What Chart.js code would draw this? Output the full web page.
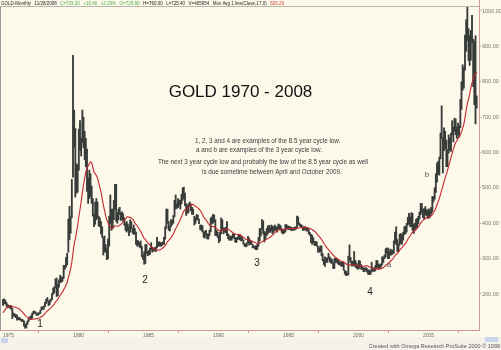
<!DOCTYPE html>
<html>
<head>
<meta charset="utf-8">
<script src="https://cdn.jsdelivr.net/npm/chart.js@4.4.1/dist/chart.umd.min.js"></script>
<style>
  html, body { margin: 0; padding: 0; background: #fcf9ea; }
  canvas { display: block; }
</style>
</head>
<body>
<canvas id="goldChart" width="501" height="350"></canvas>
<script>
// Monthly gold, Jan 1975 - Nov 2008 (one row per year)
const firstYear = 1975;

const highs = [
  185, 186, 182, 176, 170, 168, 167, 167, 160, 146, 144, 141,
  141, 134, 134, 130, 129, 127, 124, 113, 118, 124, 132, 136,
  138, 146, 151, 152, 149, 144, 147, 147, 155, 164, 163, 166,
  177, 185, 190, 180, 183, 186, 201, 217, 220, 243, 245, 227,
  240, 253, 248, 248, 281, 281, 303, 315, 412, 448, 418, 524,
  875, 720, 668, 568, 565, 666, 690, 640, 720, 700, 660, 640,
  610, 528, 550, 540, 505, 470, 425, 460, 470, 460, 420, 415,
  405, 390, 360, 364, 340, 330, 355, 420, 480, 440, 440, 465,
  510, 510, 430, 440, 445, 430, 432, 427, 415, 400, 405, 398,
  390, 410, 405, 385, 395, 385, 375, 352, 350, 345, 350, 335,
  310, 320, 340, 340, 320, 323, 330, 345, 332, 330, 331, 333,
  360, 346, 348, 345, 345, 347, 360, 390, 440, 440, 405, 392,
  410, 408, 422, 465, 480, 455, 470, 465, 466, 482, 500, 502,
  485, 455, 450, 455, 460, 455, 445, 440, 420, 415, 425, 423,
  412, 395, 395, 393, 378, 375, 380, 370, 370, 380, 415, 418,
  425, 423, 410, 380, 375, 365, 375, 415, 410, 387, 387, 388,
  405, 370, 365, 362, 364, 370, 371, 360, 358, 361, 368, 367,
  362, 360, 353, 342, 342, 345, 363, 358, 350, 349, 340, 336,
  335, 337, 340, 360, 385, 385, 410, 407, 377, 373, 385, 392,
  394, 388, 395, 392, 390, 395, 390, 390, 398, 396, 393, 385,
  382, 380, 396, 396, 393, 391, 391, 388, 387, 388, 389, 390,
  420, 418, 401, 397, 395, 391, 388, 391, 386, 386, 384, 374,
  369, 366, 359, 348, 349, 347, 335, 330, 336, 336, 314, 298,
  305, 302, 302, 315, 305, 301, 297, 288, 300, 302, 300, 297,
  293, 290, 290, 290, 290, 267, 264, 259, 307, 339, 303, 292,
  293, 320, 295, 288, 282, 295, 293, 283, 278, 274, 272, 275,
  272, 268, 268, 266, 290, 274, 271, 280, 295, 294, 285, 282,
  285, 305, 305, 310, 328, 330, 330, 320, 327, 325, 323, 350,
  375, 390, 354, 341, 369, 371, 368, 375, 390, 392, 400, 417,
  428, 418, 430, 428, 396, 400, 411, 414, 420, 432, 456, 456,
  440, 441, 447, 438, 437, 441, 437, 445, 476, 475, 500, 540,
  570, 575, 587, 655, 732, 642, 670, 660, 635, 608, 650, 640,
  655, 690, 672, 697, 695, 672, 683, 675, 750, 800, 848, 840,
  932, 975, 1033, 950, 930, 945, 988, 920, 915, 930, 760
];

const lows = [
  168, 172, 172, 165, 161, 162, 160, 157, 130, 138, 136, 133,
  126, 127, 127, 126, 122, 122, 109, 103, 104, 114, 122, 130,
  128, 132, 143, 146, 143, 139, 140, 143, 145, 154, 157, 157,
  164, 173, 179, 167, 170, 179, 184, 199, 203, 217, 193, 195,
  219, 232, 233, 236, 244, 270, 276, 282, 318, 353, 372, 416,
  530, 615, 474, 485, 488, 550, 606, 590, 628, 614, 580, 560,
  490, 456, 470, 475, 456, 420, 390, 397, 410, 415, 392, 390,
  370, 360, 310, 319, 318, 297, 300, 335, 400, 380, 385, 410,
  440, 405, 400, 410, 425, 408, 410, 405, 394, 380, 375, 380,
  365, 375, 385, 372, 368, 370, 340, 335, 338, 332, 330, 305,
  298, 284, 286, 315, 308, 310, 312, 325, 318, 322, 321, 320,
  330, 336, 335, 335, 336, 340, 340, 355, 385, 400, 380, 378,
  390, 396, 400, 418, 440, 442, 444, 450, 440, 455, 465, 470,
  450, 422, 428, 430, 448, 435, 425, 425, 395, 400, 409, 410,
  399, 382, 380, 375, 360, 358, 366, 356, 355, 365, 376, 398,
  400, 405, 365, 365, 360, 345, 350, 370, 383, 370, 375, 373,
  365, 356, 352, 352, 352, 358, 358, 347, 345, 353, 356, 353,
  350, 351, 341, 335, 333, 335, 345, 338, 340, 340, 330, 331,
  327, 325, 326, 335, 350, 364, 383, 370, 347, 355, 365, 370,
  375, 374, 378, 370, 375, 380, 380, 375, 385, 385, 380, 373,
  370, 372, 375, 383, 383, 382, 383, 379, 380, 380, 381, 383,
  386, 398, 393, 390, 388, 380, 380, 384, 378, 378, 370, 366,
  345, 340, 345, 337, 337, 335, 318, 318, 320, 308, 294, 283,
  278, 290, 289, 300, 291, 287, 287, 272, 272, 288, 290, 285,
  282, 282, 278, 278, 267, 256, 252, 253, 254, 295, 288, 279,
  279, 280, 276, 273, 270, 271, 276, 270, 269, 263, 263, 268,
  262, 255, 255, 255, 262, 265, 264, 265, 270, 276, 270, 271,
  276, 282, 289, 300, 304, 315, 300, 300, 310, 310, 313, 315,
  344, 340, 320, 320, 338, 343, 341, 352, 368, 370, 375, 395,
  398, 390, 391, 380, 371, 381, 386, 387, 398, 411, 424, 430,
  416, 411, 424, 421, 414, 414, 417, 426, 432, 460, 468, 487,
  516, 538, 536, 582, 640, 542, 605, 611, 560, 560, 598, 606,
  603, 650, 630, 660, 650, 640, 650, 643, 670, 722, 776, 782,
  833, 886, 916, 860, 846, 861, 911, 786, 735, 681, 725.4
];

const closes = [
  175.8, 181.8, 177.3, 167.0, 167.0, 165.2, 166.7, 159.8, 141.3, 142.9, 138.0, 140.3,
  128.2, 132.3, 128.8, 128.4, 125.5, 123.8, 112.5, 104.0, 116.0, 123.2, 130.3, 134.5,
  132.3, 142.8, 149.0, 148.0, 143.0, 143.0, 144.1, 145.1, 154.0, 162.3, 160.5, 165.0,
  175.0, 182.0, 181.3, 170.6, 183.5, 183.8, 200.3, 208.9, 217.1, 242.6, 193.4, 226.0,
  233.7, 251.3, 240.1, 245.3, 274.6, 277.5, 296.5, 315.1, 397.3, 382.0, 415.7, 512.0,
  653.0, 637.0, 494.5, 517.5, 535.5, 653.0, 614.3, 631.3, 666.8, 629.0, 619.8, 589.8,
  506.5, 489.0, 513.8, 482.8, 479.3, 426.0, 406.0, 425.0, 428.8, 427.0, 414.5, 397.5,
  387.0, 362.6, 320.0, 361.3, 325.3, 317.0, 342.9, 411.5, 397.0, 423.3, 416.0, 456.9,
  499.5, 408.5, 414.8, 429.3, 437.5, 416.0, 422.0, 414.3, 405.0, 382.0, 405.0, 382.4,
  373.8, 394.3, 394.3, 375.8, 384.3, 373.8, 342.4, 348.3, 343.8, 333.5, 329.0, 309.0,
  303, 299, 329, 321, 315, 318, 326, 333, 325, 326, 325, 328,
  351, 338, 345, 343, 343, 345, 357, 385, 423, 401, 383, 390,
  404, 405, 418, 452, 452, 448, 463, 453, 460, 469, 492, 484,
  458, 426, 446, 450, 451, 436, 437, 431, 399, 411, 422, 410,
  404, 388, 392, 377, 362, 374, 368, 360, 367, 376, 408, 401,
  415, 407, 368, 368, 363, 352, 372, 387, 408, 380, 381, 386,
  366, 363, 356, 357, 361, 367, 362, 347, 354, 358, 367, 353,
  355, 353, 341, 337, 337, 343, 357, 340, 349, 340, 334, 333,
  330, 327, 337, 354, 378, 379, 401, 372, 355, 370, 370, 392,
  378, 381, 391, 377, 387, 386, 384, 387, 394, 389, 383, 383,
  375, 376, 392, 389, 385, 387, 383, 382, 384, 383, 387, 387,
  405, 400, 396, 392, 390, 382, 385, 386, 379, 380, 371, 369,
  345, 362, 348, 340, 345, 335, 326, 323, 332, 311, 297, 290,
  304, 297, 301, 308, 294, 296, 289, 273, 294, 292, 294, 288,
  287, 287, 279, 286, 268, 261, 255, 254, 299, 299, 291, 289,
  283, 293, 278, 275, 273, 289, 279, 277, 273, 264, 269, 273,
  265, 266, 258, 264, 266, 270, 265, 273, 293, 279, 275, 279,
  282, 297, 302, 308, 326, 318, 304, 312, 324, 316, 318, 347,
  368, 347, 334, 339, 364, 346, 354, 375, 384, 386, 397, 416,
  400, 397, 426, 388, 395, 393, 391, 410, 415, 428, 452, 438,
  422, 435, 428, 434, 417, 435, 430, 433, 470, 470, 496, 518,
  569, 556, 583, 654, 643, 614, 633, 627, 599, 604, 648, 632,
  651, 665, 662, 679, 659, 650, 666, 672, 743, 789, 783, 836,
  926, 971, 917, 864, 887, 928, 918, 829, 880, 718, 733.2
];

// Sep 1973 - Dec 1974 closes, only used to start the moving average
const closesBefore1975 = [103.0, 100.1, 94.8, 112.3, 129.2, 150.3, 168.4, 172.3,
                          163.3, 142.9, 155.5, 154.1, 151.8, 158.8, 181.8, 186.5];
const maLength = 17;

const yearTicks = [1975, 1980, 1985, 1990, 1995, 2000, 2005];
const priceTicks = [200, 300, 400, 500, 600, 700, 800, 900, 1000];

const cycleLows = [
  { text: '1', year: 1977.64, price: 115, big: true },
  { text: '2', year: 1985.14, price: 240, big: true },
  { text: '3', year: 1993.14, price: 288, big: true },
  { text: '4', year: 2001.21, price: 206, big: true },
  { text: 'a', year: 2002.57, price: 282, big: false },
  { text: 'b', year: 2005.29, price: 536, big: false }
];

const noteLines = [
  '1, 2, 3 and 4 are examples of the 8.5 year cycle low.',
  'a and b are examples of the 3 year cycle low.',
  'The next 3 year cycle low and probably the low of the 8.5 year cycle as well',
  'is due sometime between April and October 2009.'
];

const headerParts = [
  ['GOLD-Monthly', '#222'], ['11/28/2008', '#222'],
  ['C=733.20', '#4caf50'], ['+16.40', '#4caf50'], ['+2.29%', '#4caf50'], ['O=729.80', '#4caf50'],
  ['H=760.00', '#222'], ['L=725.40', '#222'], ['V=405654', '#222'],
  ['Mov Avg 1 line(Close,17,0)', '#222'], ['826.29', '#d0403c']
];

const FONT = "'Liberation Sans', Arial, sans-serif";
const BG = '#fcf9ea';
const AXIS = '#cf9a98';

const monthX = i => firstYear + i / 12;

const barPoints = highs.map((h, i) => ({ x: monthX(i), y: [lows[i], h] }));

const allCloses = closesBefore1975.concat(closes);
const maPoints = closes.map((c, i) => {
  const end = i + closesBefore1975.length + 1;
  const win = allCloses.slice(end - maLength, end);
  return { x: monthX(i), y: win.reduce((a, b) => a + b, 0) / win.length };
});

const chartDecor = {
  id: 'chartDecor',
  beforeDraw(chart) {
    const c = chart.ctx;
    c.save();
    c.fillStyle = BG;
    c.fillRect(0, 0, chart.width, chart.height);
    c.restore();
  },
  afterDraw(chart) {
    const c = chart.ctx;
    const xs = chart.scales.x, ys = chart.scales.y;
    const area = chart.chartArea;
    c.save();

    // header strip
    c.strokeStyle = '#b9b5a8';
    c.lineWidth = 1;
    c.beginPath();
    c.moveTo(0, area.top - 0.5);
    c.lineTo(area.right, area.top - 0.5);
    c.stroke();
    c.strokeStyle = AXIS;
    c.beginPath();
    c.moveTo(area.right + 0.5, 0);
    c.lineTo(area.right + 0.5, area.top);
    c.stroke();
    c.strokeStyle = '#9a9a9a';
    c.beginPath();
    c.moveTo(0.5, area.top);
    c.lineTo(0.5, area.bottom);
    c.stroke();

    c.font = '4.5px ' + FONT;
    c.textBaseline = 'alphabetic';
    let hx = 1;
    headerParts.forEach(([t, col]) => {
      c.fillStyle = col;
      c.fillText(t, hx, 5);
      hx += c.measureText(t).width + 3.5;
    });

    // title and notes
    c.fillStyle = '#111';
    c.textAlign = 'center';
    c.font = '17px ' + FONT;
    c.fillText('GOLD 1970 - 2008', 240.5, 97);

    c.fillStyle = '#3a3a3a';
    c.textAlign = 'left';
    c.font = '6.3px ' + FONT;
    const noteX = [195, 196, 158, 202];
    const noteY = [143, 152, 164, 174];
    noteLines.forEach((t, k) => c.fillText(t, noteX[k], noteY[k]));

    // cycle low markers
    c.textAlign = 'center';
    c.textBaseline = 'middle';
    cycleLows.forEach(m => {
      c.font = (m.big ? '10px ' : '8px ') + FONT;
      c.fillStyle = m.big ? '#222' : '#555';
      c.fillText(m.text, xs.getPixelForValue(m.year), ys.getPixelForValue(m.price));
    });

    // scrollbar strip and credit
    c.fillStyle = '#f4f2ea';
    c.fillRect(0, 337, chart.width, 13);
    c.fillStyle = '#c9d6ea';
    c.fillRect(1, 338, 7, 5);
    c.fillRect(485, 337, 13, 5);
    c.fillStyle = '#555';
    c.textAlign = 'right';
    c.textBaseline = 'alphabetic';
    c.font = '5.5px ' + FONT;
    c.fillText('Created with Omega Research ProSuite 2000 \u00a9 1999', 500, 348);
    c.restore();
  }
};

new Chart(document.getElementById('goldChart'), {
  type: 'bar',
  data: {
    datasets: [
      {
        type: 'line',
        data: maPoints,
        borderColor: '#c3282e',
        borderWidth: 1.1,
        pointRadius: 0,
        tension: 0,
        order: 0
      },
      {
        type: 'bar',
        data: barPoints,
        backgroundColor: '#373c39',
        barThickness: 1.2,
        order: 1
      }
    ]
  },
  options: {
    responsive: false,
    animation: false,
    events: [],
    layout: { padding: { top: 7, left: 0, right: 0, bottom: 0 } },
    plugins: { legend: { display: false }, tooltip: { enabled: false } },
    scales: {
      x: {
        type: 'linear',
        min: 1975 - 3 / 14,
        max: 2009,
        offset: false,
        afterBuildTicks: s => { s.ticks = yearTicks.map(v => ({ value: v })); },
        afterFit: s => { s.height = 20; },
        grid: { drawOnChartArea: false, tickLength: 3, color: AXIS },
        border: { color: AXIS },
        ticks: {
          align: 'start', padding: 0, maxRotation: 0, autoSkip: false,
          color: '#666', font: { size: 5, family: FONT },
          callback: v => String(v)
        }
      },
      y: {
        position: 'right',
        min: 98.2,
        max: 1011.3,
        afterBuildTicks: s => { s.ticks = priceTicks.map(v => ({ value: v })); },
        afterFit: s => { s.width = 22; },
        grid: { drawOnChartArea: false, tickLength: 2, color: AXIS },
        border: { color: AXIS },
        ticks: {
          crossAlign: 'near', padding: 1,
          color: '#777', font: { size: 5.5, family: FONT },
          callback: v => v.toFixed(2)
        }
      }
    }
  },
  plugins: [chartDecor]
});
</script>
</body>
</html>
